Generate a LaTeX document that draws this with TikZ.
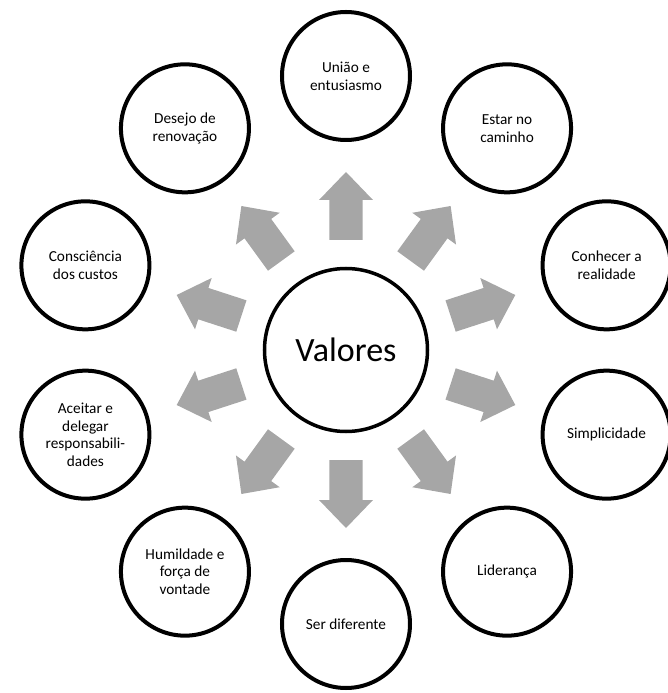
\documentclass[tikz,border=0pt]{standalone}
\usepackage{fontspec}
\setmainfont{Carlito}
\definecolor{arrowgray}{HTML}{A6A6A6}
\begin{document}
\begin{tikzpicture}[x=1pt,y=1pt,
  ring/.style={circle, draw=black, line width=4pt, fill=white,
    minimum size=128pt, inner sep=0pt, align=center,
    font=\fontsize{15.3}{17.7}\selectfont},
  hub/.style={circle, draw=black, line width=3.5pt, fill=white,
    minimum size=163pt, inner sep=0pt,
    font=\fontsize{34}{40}\selectfont},
  blockarrow/.style={fill=arrowgray, draw=none}]
\useasboundingbox (-346,-343) rectangle (322,350);

% central value
\node[hub] (hub) at (0,0) {Valores};

% block arrows radiating from the centre
\foreach \a in {90,54,18,-18,-54,-90,-126,-162,162,126}{
  \fill[blockarrow, shift={(hub.center)}, rotate=\a]
    (110,-16.5) -- (150,-16.5) -- (150,-27) -- (178,0)
    -- (150,27) -- (150,16.5) -- (110,16.5) -- cycle;
}

% surrounding values
\node[ring] (v1)  at (90:274)   {União e\\entusiasmo};
\node[ring] (v2)  at (54:274)   {Estar no\\caminho};
\node[ring] (v3)  at (18:274)   {Conhecer a\\realidade};
\node[ring] (v4)  at (-18:274)  {Simplicidade};
\node[ring] (v5)  at (-54:274)  {Liderança};
\node[ring] (v6)  at (-90:274)  {Ser diferente};
\node[ring] (v7)  at (-126:274) {Humildade e\\força de\\vontade};
\node[ring] (v8)  at (-162:274) {Aceitar e\\delegar\\responsabili-\\dades};
\node[ring] (v9)  at (162:274)  {Consciência\\dos custos};
\node[ring] (v10) at (126:274)  {Desejo de\\renovação};
\end{tikzpicture}
\end{document}
